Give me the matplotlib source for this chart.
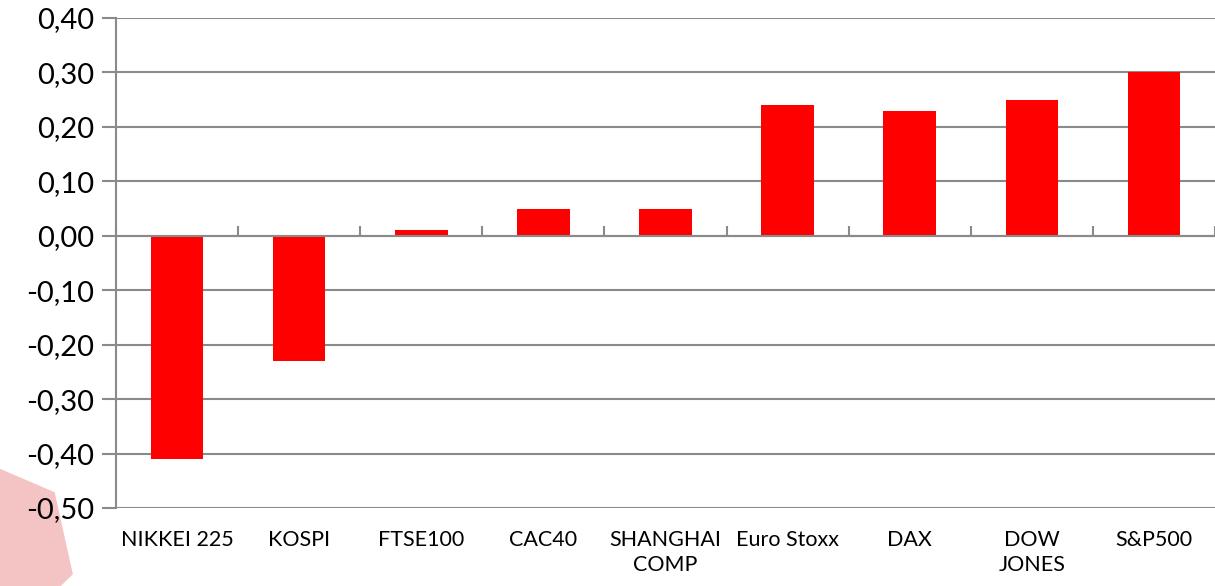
import matplotlib
matplotlib.use("Agg")
import matplotlib.pyplot as plt
from matplotlib.patches import Polygon
import numpy as np

categories = ["NIKKEI 225", "KOSPI", "FTSE100", "CAC40", "SHANGHAI\nCOMP",
              "Euro Stoxx", "DAX", "DOW\nJONES", "S&P500"]
values = [-0.41, -0.23, 0.01, 0.05, 0.05, 0.24, 0.23, 0.25, 0.30]
yticks = [-0.5, -0.4, -0.3, -0.2, -0.1, 0.0, 0.1, 0.2, 0.3, 0.4]
ytick_labels = ["-0,50", "-0,40", "-0,30", "-0,20", "-0,10", "0,00", "0,10", "0,20", "0,30", "0,40"]

plt.rcParams['font.family'] = ['Lato', 'DejaVu Sans']
grid_col = "#8a8a8a"

fig = plt.figure(figsize=(12.15, 5.86), dpi=100)
fig.patch.set_facecolor("white")
# faint background decoration
fig.patches.append(Polygon([[0, 0.0], [0, 0.2], [0.045, 0.16], [0.06, 0.02], [0.05, 0]],
                           closed=True, transform=fig.transFigure, facecolor="#f4c4c4",
                           edgecolor="none", zorder=-5))

ax = fig.add_axes([0.0955, 0.1331, 0.9045, 0.8362])
ax.set_zorder(2)
ax.set_facecolor("none")
x = np.arange(len(categories))
ax.bar(x, values, width=0.43, color="#ff0000", zorder=3)

ax.set_xlim(-0.5, len(categories) - 0.5)
ax.set_ylim(-0.5, 0.4)
ax.set_yticks(yticks)
ax.set_yticklabels(ytick_labels, fontsize=21)
ax.set_xticks(x)
ax.set_xticklabels(categories, fontsize=15.5, linespacing=1.3)
ax.tick_params(axis='x', length=0, pad=16)
ax.tick_params(axis='y', length=10, width=1.5, color=grid_col, pad=6)
ax.yaxis.grid(True, color=grid_col, linewidth=1.5, zorder=1)
ax.set_axisbelow(True)
for s in ["top", "right", "bottom"]:
    ax.spines[s].set_visible(False)
ax.spines["left"].set_color(grid_col)
ax.spines["left"].set_linewidth(1.5)

# zero-line category axis with tick marks between categories
ymin, ymax = ax.get_ylim()
sec = ax.secondary_xaxis((0 - ymin) / (ymax - ymin))
sec.set_xticks(np.arange(len(categories) + 1) - 0.5)
sec.set_xticklabels([])
sec.tick_params(axis='x', direction='out', length=7, width=1.5, color=grid_col)
for sp in sec.spines.values():
    sp.set_color(grid_col)
    sp.set_linewidth(1.5)
sec.set_zorder(4)

fig.savefig("out.png", dpi=100)
